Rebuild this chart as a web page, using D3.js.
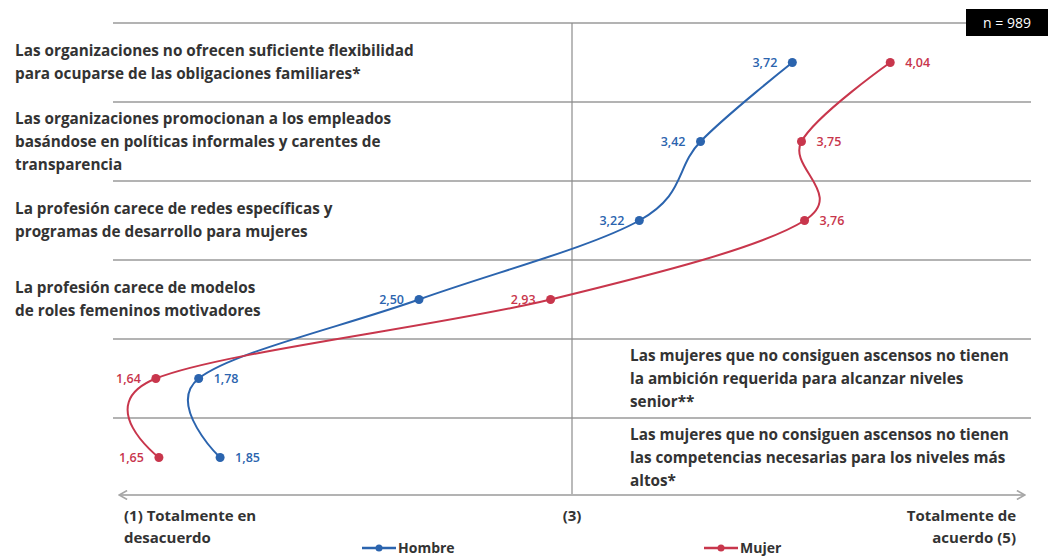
<!DOCTYPE html>
<html>
<head>
<meta charset="utf-8">
<script src="https://cdn.jsdelivr.net/npm/d3@7"></script>
<style>
  body { margin: 0; background: #fff; }
  text { font-family: "Open Sans", sans-serif; }
</style>
</head>
<body>
<div id="graf"></div>
<script>
// Datos
const categorias = [
  ["Las organizaciones no ofrecen suficiente flexibilidad", "para ocuparse de las obligaciones familiares*"],
  ["Las organizaciones promocionan a los empleados", "basándose en políticas informales y carentes de", "transparencia"],
  ["La profesión carece de redes específicas y", "programas de desarrollo para mujeres"],
  ["La profesión carece de modelos", "de roles femeninos motivadores"],
  ["Las mujeres que no consiguen ascensos no tienen", "la ambición requerida para alcanzar niveles", "senior**"],
  ["Las mujeres que no consiguen ascensos no tienen", "las competencias necesarias para los niveles más", "altos*"]
]

const hombre = [3.72, 3.42, 3.22, 2.50, 1.78, 1.85]
const mujer = [4.04, 3.75, 3.76, 2.93, 1.64, 1.65]

const ejeEtiquetas = ["(1) Totalmente en|desacuerdo", "(3)", "Totalmente de|acuerdo (5)"]
const muestra = "n = 989"

const series = [
  { nombre: "Hombre", valores: hombre, color: "#2b64ae", lados: ["l", "l", "l", "l", "r", "r"] },
  { nombre: "Mujer", valores: mujer, color: "#c8364c", lados: ["r", "r", "r", "l", "l", "l"] }
]

const ancho = 1048
const alto = 556

const svg = d3.select("#graf")
  .append("svg")
  .attr("width", ancho)
  .attr("height", alto)

// Escaladores
const x = d3.scaleLinear()
  .domain([1.5, 4.5])
  .range([113, 1031])

const y = d3.scaleBand()
  .domain(d3.range(categorias.length))
  .range([23, 497])

const yc = (i) => y(i) + y.bandwidth() / 2

// Lineas de separacion
svg.append("g")
  .selectAll("line")
  .data(d3.range(categorias.length))
  .join("line")
  .attr("x1", 113)
  .attr("x2", (d) => d === 0 ? 968 : 1031)
  .attr("y1", (d) => y(d))
  .attr("y2", (d) => y(d))
  .attr("stroke", "#b3b3b3")
  .attr("stroke-width", 2)

// Linea vertical en (3)
svg.append("line")
  .attr("x1", x(3))
  .attr("x2", x(3))
  .attr("y1", y(0))
  .attr("y2", 495)
  .attr("stroke", "#8c8c8c")
  .attr("stroke-width", 1.2)

// Eje con flechas
svg.append("defs")
  .append("marker")
  .attr("id", "flecha")
  .attr("viewBox", "0 0 10 10")
  .attr("refX", 9)
  .attr("refY", 5)
  .attr("markerWidth", 10)
  .attr("markerHeight", 10)
  .attr("markerUnits", "userSpaceOnUse")
  .attr("orient", "auto-start-reverse")
  .append("path")
  .attr("d", "M1,0.5 L9,5 L1,9.5")
  .attr("fill", "none")
  .attr("stroke", "#a6a6a6")
  .attr("stroke-width", 1.6)

svg.append("line")
  .attr("x1", x(1.52))
  .attr("x2", x(4.48))
  .attr("y1", 495)
  .attr("y2", 495)
  .attr("stroke", "#b3b3b3")
  .attr("stroke-width", 2)
  .attr("marker-start", "url(#flecha)")
  .attr("marker-end", "url(#flecha)")

// Textos de categorias
const cat = svg.append("g")
  .selectAll("text")
  .data(categorias)
  .join("text")
  .attr("x", (d, i) => i < 4 ? 15 : 630)
  .attr("y", (d, i) => yc(i) - (d.length - 1) * 23 / 2 + 5)
  .attr("fill", "#333")
  .attr("font-size", 15.3)
  .attr("font-weight", 700)

cat.selectAll("tspan")
  .data((d) => d)
  .join("tspan")
  .attr("x", function () { return d3.select(this.parentNode).attr("x") })
  .attr("dy", (d, i) => i === 0 ? 0 : 23)
  .text((d) => d)

// Series
const linea = d3.line()
  .x((d) => x(d))
  .y((d, i) => yc(i))
  .curve(d3.curveCardinal.tension(0))

const fmt = (v) => v.toFixed(2).replace(".", ",")

series.forEach((s) => {
  const g = svg.append("g")

  g.append("path")
    .attr("d", linea(s.valores))
    .attr("fill", "none")
    .attr("stroke", s.color)
    .attr("stroke-width", 2)

  g.selectAll("circle")
    .data(s.valores)
    .join("circle")
    .attr("cx", (d) => x(d))
    .attr("cy", (d, i) => yc(i))
    .attr("r", 4.5)
    .attr("fill", s.color)

  g.selectAll("text")
    .data(s.valores)
    .join("text")
    .attr("x", (d, i) => x(d) + (s.lados[i] === "l" ? -15 : 15))
    .attr("y", (d, i) => yc(i) + 4.5)
    .attr("text-anchor", (d, i) => s.lados[i] === "l" ? "end" : "start")
    .attr("fill", s.color)
    .attr("font-size", 12.5)
    .attr("font-weight", 600)
    .text((d) => fmt(d))
})

// Etiquetas del eje
const anclas = ["start", "middle", "end"]
const posX = [124, x(3), 1016]

svg.append("g")
  .selectAll("text")
  .data(ejeEtiquetas)
  .join("text")
  .attr("x", (d, i) => posX[i])
  .attr("y", 521)
  .attr("text-anchor", (d, i) => anclas[i])
  .attr("fill", "#333")
  .attr("font-size", 15)
  .attr("font-weight", 700)
  .selectAll("tspan")
  .data((d) => d.split("|"))
  .join("tspan")
  .attr("x", function () { return d3.select(this.parentNode).attr("x") })
  .attr("dy", (d, i) => i === 0 ? 0 : 22)
  .text((d) => d)

// Leyenda
const leyX = [362, 704]
const ley = svg.append("g")
  .selectAll("g")
  .data(series)
  .join("g")
  .attr("transform", (d, i) => `translate(${leyX[i]}, 548)`)

ley.append("line")
  .attr("x1", 0)
  .attr("x2", 34)
  .attr("stroke", (d) => d.color)
  .attr("stroke-width", 2.5)

ley.append("circle")
  .attr("cx", 17)
  .attr("r", 3.5)
  .attr("fill", (d) => d.color)

ley.append("text")
  .attr("x", 36)
  .attr("y", 5)
  .attr("fill", "#333")
  .attr("font-size", 14)
  .attr("font-weight", 700)
  .text((d) => d.nombre)

// Caja n
svg.append("rect")
  .attr("x", 966)
  .attr("y", 9)
  .attr("width", 82)
  .attr("height", 27)
  .attr("fill", "#000")

svg.append("text")
  .attr("x", 1007)
  .attr("y", 27.5)
  .attr("text-anchor", "middle")
  .attr("fill", "#fff")
  .attr("font-size", 14)
  .text(muestra)
</script>
</body>
</html>
